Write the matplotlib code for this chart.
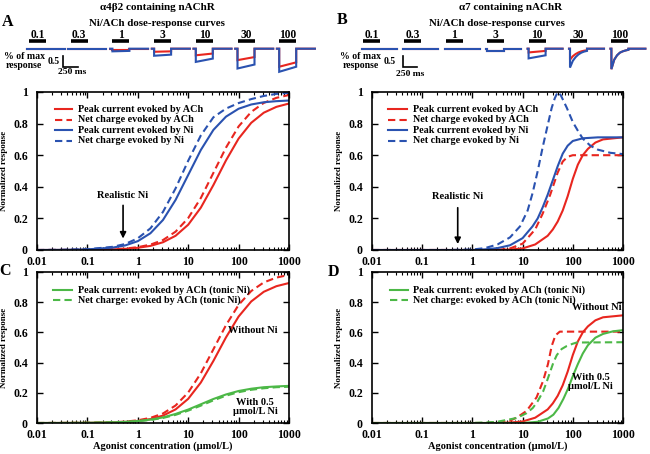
import numpy as np
import matplotlib
matplotlib.use('Agg')
import matplotlib.pyplot as plt
from matplotlib.ticker import LogLocator, NullFormatter

plt.rcParams['font.family'] = ['Liberation Serif', 'DejaVu Serif']
plt.rcParams['font.weight'] = 'bold'
plt.rcParams['axes.labelweight'] = 'bold'

RED = '#e8261f'
BLUE = '#2a52b0'
GREEN = '#4cb847'

# ---------------- data ----------------
conc_grid = [0.01, 0.0316, 0.1, 0.316, 0.562, 1, 1.78, 3.16, 5.62, 10, 17.8, 31.6,
             56.2, 100, 178, 316, 562, 1000]

# Panel A (alpha4beta2)
a_ach_peak = [0.0, 0.0003, 0.001, 0.004, 0.007, 0.014, 0.026, 0.049, 0.09, 0.16, 0.268,
              0.411, 0.567, 0.705, 0.805, 0.869, 0.906, 0.927]
a_ach_charge = [0.0, 0.0005, 0.0013, 0.005, 0.009, 0.018, 0.034, 0.063, 0.116, 0.202,
                0.329, 0.488, 0.648, 0.782, 0.874, 0.931, 0.963, 0.981]
a_ni_peak = [0.0, 0.001, 0.004, 0.015, 0.029, 0.056, 0.106, 0.19, 0.317, 0.475, 0.633,
             0.76, 0.844, 0.894, 0.921, 0.935, 0.942, 0.946]
a_ni_charge = [0.0, 0.001, 0.005, 0.02, 0.038, 0.074, 0.137, 0.241, 0.39, 0.565, 0.725,
               0.84, 0.895, 0.93, 0.955, 0.975, 0.988, 0.995]

# Panel C (alpha4beta2, tonic Ni)
c_tonic_peak = [0.0001, 0.0004, 0.0014, 0.0044, 0.0076, 0.013, 0.0225, 0.037, 0.06, 0.089,
                0.124, 0.159, 0.189, 0.212, 0.227, 0.237, 0.242, 0.246]
c_tonic_charge = [0.0001, 0.0004, 0.0012, 0.0039, 0.0068, 0.0117, 0.02, 0.0335, 0.054,
                  0.082, 0.115, 0.15, 0.181, 0.204, 0.22, 0.23, 0.237, 0.24]

# Panel B (alpha7)
b_ni_charge_conc = [0.01, 0.316, 1, 1.78, 3.16, 5.62, 8.9, 12.6, 15.8, 20, 25.1, 31.6, 38,
                    43.7, 50, 57.5, 75.9, 100, 126, 158, 224, 316, 562, 1000]
b_ni_charge = [0.0, 0.0, 0.003, 0.012, 0.035, 0.08, 0.15, 0.25, 0.36, 0.5, 0.65, 0.79, 0.9,
               0.96, 1.0, 0.98, 0.9, 0.81, 0.755, 0.705, 0.66, 0.635, 0.615, 0.607]
b_ni_peak_conc = [0.01, 1, 1.78, 3.16, 5.62, 10, 15.8, 20, 25.1, 31.6, 39.8, 50, 63, 79,
                  100, 158, 316, 1000]
b_ni_peak = [0.0, 0.0, 0.004, 0.012, 0.03, 0.075, 0.15, 0.2, 0.27, 0.35, 0.44, 0.53, 0.61,
             0.66, 0.69, 0.707, 0.713, 0.713]
b_ach_peak_conc = [0.01, 3.16, 5.62, 10, 17.8, 31.6, 40, 50, 63, 79, 100, 126, 158, 200,
                   282, 400, 1000]
b_ach_peak = [0.0, 0.0, 0.003, 0.01, 0.035, 0.09, 0.13, 0.18, 0.25, 0.34, 0.45, 0.54, 0.6,
              0.64, 0.68, 0.7, 0.713]
b_ach_charge_conc = [0.01, 3.16, 5.62, 10, 17.8, 25.1, 35.5, 50, 63, 79, 100, 1000]
b_ach_charge = [0.0, 0.0, 0.01, 0.04, 0.13, 0.23, 0.35, 0.49, 0.56, 0.59, 0.6, 0.6]

# Panel D (alpha7, tonic Ni)
d_ach_charge_conc = [0.01, 2, 3.16, 5.62, 8, 12, 19, 25.7, 32, 38, 45, 55, 1000]
d_ach_charge = [0.0, 0.0, 0.005, 0.015, 0.04, 0.08, 0.17, 0.28, 0.39, 0.51, 0.58, 0.605, 0.605]
d_tonic_peak_conc = [0.01, 10, 20, 32, 41, 52, 65, 81, 100, 126, 158, 200, 282, 400, 631, 1000]
d_tonic_peak = [0.0, 0.0, 0.008, 0.03, 0.055, 0.1, 0.16, 0.23, 0.31, 0.39, 0.46, 0.515,
                0.565, 0.59, 0.607, 0.615]
d_tonic_charge_conc = [0.01, 1, 3, 7.6, 12, 16, 20, 25.7, 30, 35.5, 41, 48, 60, 76, 100,
                       120, 1000]
d_tonic_charge = [0.0, 0.0, 0.007, 0.033, 0.065, 0.1, 0.145, 0.21, 0.27, 0.34, 0.4, 0.45,
                  0.49, 0.51, 0.525, 0.533, 0.535]

realistic_ni = 0.51

# Current traces (depth in normalized units during the pulse)
trace_labels = ['0.1', '0.3', '1', '3', '10', '30', '100']
a_trace_ni = [[0, 0], [0.02, 0.02], [0.12, 0.1], [0.32, 0.27], [0.6, 0.45], [0.9, 0.72],
              [1.05, 0.82]]
a_trace_ach = [[0, 0], [0.01, 0.01], [0.05, 0.05], [0.14, 0.12], [0.3, 0.22], [0.52, 0.38],
               [0.82, 0.62]]
b_trace_ni = [[0, 0], [0, 0], [0.01, 0.01], [0.12, 0.12], [0.44, 0.3],
              [0.86, 0.55, 0.38, 0.26, 0.18, 0.13, 0.1],
              [0.93, 0.5, 0.3, 0.18, 0.12, 0.08, 0.05]]
b_trace_ach = [[0, 0], [0, 0], [0, 0], [0.09, 0.09], [0.17, 0.1],
               [0.5, 0.34, 0.24, 0.17, 0.12, 0.09, 0.07],
               [0.93, 0.5, 0.3, 0.18, 0.12, 0.08, 0.05]]

# ---------------- figure ----------------
W, H = 650, 454
fig = plt.figure(figsize=(6.5, 4.54), dpi=100)


def px_axes(x0, y0, x1, y1):
    return fig.add_axes([x0 / W, 1 - y1 / H, (x1 - x0) / W, (y1 - y0) / H])


def ftext(x, y, s, **kw):
    fig.text(x / W, 1 - y / H, s, **kw)


DASH = (0, (3.5, 2))
LW = 1.5


def setup(ax, xlabel=False):
    ax.set_xscale('log')
    ax.set_xlim(0.01, 1000)
    ax.set_ylim(0, 1)
    ax.set_xticks([0.01, 0.1, 1, 10, 100, 1000])
    ax.set_xticklabels(['0.01', '0.1', '1', '10', '100', '1000'])
    ax.xaxis.set_minor_locator(LogLocator(base=10, subs=np.arange(2, 10) * 1.0, numticks=20))
    ax.xaxis.set_minor_formatter(NullFormatter())
    ax.set_yticks([0, 0.2, 0.4, 0.6, 0.8, 1])
    ax.set_yticklabels(['0', '0.2', '0.4', '0.6', '0.8', '1'])
    ax.tick_params(which='both', direction='in', top=True, right=True, labelsize=8.5)
    ax.tick_params(axis='x', which='major', pad=4.5)
    ax.tick_params(axis='y', which='major', pad=6.5)
    ax.tick_params(which='major', length=4, width=1)
    ax.tick_params(which='minor', length=2.2, width=0.8)
    for s in ax.spines.values():
        s.set_linewidth(1.2)
    ax.set_ylabel('Normalized response', fontsize=6.5)
    ax.yaxis.set_label_coords(-0.117, 0.5)
    if xlabel:
        ax.set_xlabel('Agonist concentration (\u03bcmol/L)', fontsize=7.5)
        ax.xaxis.set_label_coords(0.5, -0.125)


def manual_legend(ax, entries, x0, x1, y0, dy, fs=7.3):
    for k, (col, ls, lab) in enumerate(entries):
        y = y0 - k * dy
        ax.plot([x0, x1], [y, y], color=col, ls=ls, lw=LW, transform=ax.transAxes)
        ax.text(x1 + 0.022, y, lab, transform=ax.transAxes, va='center', ha='left', fontsize=fs)


# Panel A
axA = px_axes(37, 92, 289, 250)
setup(axA)
axA.plot(conc_grid, a_ach_peak, color=RED, lw=LW)
axA.plot(conc_grid, a_ach_charge, color=RED, lw=LW, ls=DASH)
axA.plot(conc_grid, a_ni_peak, color=BLUE, lw=LW)
axA.plot(conc_grid, a_ni_charge, color=BLUE, lw=LW, ls=DASH)
manual_legend(axA, [(RED, '-', 'Peak current evoked by ACh'),
                    (RED, DASH, 'Net charge evoked by ACh'),
                    (BLUE, '-', 'Peak current evoked by Ni'),
                    (BLUE, DASH, 'Net charge evoked by Ni')],
              0.071, 0.139, 0.891, 0.066)
axA.text(realistic_ni, 0.348, 'Realistic Ni', ha='center', va='center', fontsize=7.5)
axA.annotate('', xy=(realistic_ni, 0.055), xytext=(realistic_ni, 0.30),
             arrowprops=dict(arrowstyle='-|>', lw=1.2, color='black', mutation_scale=9))

# Panel B
axB = px_axes(372, 92, 623, 250)
setup(axB)
axB.plot(b_ach_peak_conc, b_ach_peak, color=RED, lw=LW)
axB.plot(b_ach_charge_conc, b_ach_charge, color=RED, lw=LW, ls=DASH)
axB.plot(b_ni_peak_conc, b_ni_peak, color=BLUE, lw=LW)
axB.plot(b_ni_charge_conc, b_ni_charge, color=BLUE, lw=LW, ls=DASH)
manual_legend(axB, [(RED, '-', 'Peak current evoked by ACh'),
                    (RED, DASH, 'Net charge evoked by ACh'),
                    (BLUE, '-', 'Peak current evoked by Ni'),
                    (BLUE, DASH, 'Net charge evoked by Ni')],
              0.064, 0.14, 0.891, 0.066)
axB.text(realistic_ni, 0.337, 'Realistic Ni', ha='center', va='center', fontsize=7.5)
axB.annotate('', xy=(realistic_ni, 0.02), xytext=(realistic_ni, 0.285),
             arrowprops=dict(arrowstyle='-|>', lw=1.2, color='black', mutation_scale=9))

# Panel C
axC = px_axes(37, 272, 289, 423)
setup(axC, xlabel=True)
axC.plot(conc_grid, a_ach_peak, color=RED, lw=LW)
axC.plot(conc_grid, a_ach_charge, color=RED, lw=LW, ls=DASH)
axC.plot(conc_grid, c_tonic_peak, color=GREEN, lw=LW)
axC.plot(conc_grid, c_tonic_charge, color=GREEN, lw=LW, ls=DASH)
manual_legend(axC, [(GREEN, '-', 'Peak current: evoked by ACh (tonic Ni)'),
                    (GREEN, DASH, 'Net charge: evoked by ACh (tonic Ni)')],
              0.063, 0.139, 0.881, 0.069)
axC.text(193, 0.611, 'Without Ni', ha='center', va='center', fontsize=7.5)
axC.text(211, 0.108, 'With 0.5\n\u03bcmol/L Ni', ha='center', va='center', fontsize=7.5,
         linespacing=1.05)

# Panel D
axD = px_axes(372, 272, 623, 423)
setup(axD, xlabel=True)
axD.plot(b_ach_peak_conc, b_ach_peak, color=RED, lw=LW)
axD.plot(d_ach_charge_conc, d_ach_charge, color=RED, lw=LW, ls=DASH)
axD.plot(d_tonic_peak_conc, d_tonic_peak, color=GREEN, lw=LW)
axD.plot(d_tonic_charge_conc, d_tonic_charge, color=GREEN, lw=LW, ls=DASH)
manual_legend(axD, [(GREEN, '-', 'Peak current: evoked by ACh (tonic Ni)'),
                    (GREEN, DASH, 'Net charge: evoked by ACh (tonic Ni)')],
              0.072, 0.143, 0.881, 0.069)
axD.text(302, 0.762, 'Without Ni', ha='center', va='center', fontsize=7.5)
axD.text(229, 0.27, 'With 0.5\n\u03bcmol/L Ni', ha='center', va='center', fontsize=7.5,
         linespacing=1.05)


# ---------------- trace strips ----------------
def draw_strip(x0, first, period, seglen, boff, blen, ni, ach, sb):
    ax = px_axes(x0, 26, x0 + 325, 80)
    ax.set_xlim(0, 325)
    ax.set_ylim(-(80 - 48.7) / 22, (48.7 - 26) / 22)
    ax.axis('off')
    for i, (lab, dn, da) in enumerate(zip(trace_labels, ni, ach)):
        s = first + i * period
        b0 = s + boff
        b1 = b0 + blen
        for d, col in ((da, RED), (dn, BLUE)):
            n = len(d)
            xs = [s, b0] + [b0 + blen * k / (n - 1) for k in range(n)] + [b1, s + seglen]
            ys = [0, 0] + [-v for v in d] + [0, 0]
            ax.plot(xs, ys, color=col, lw=1.5, solid_joinstyle='miter')
        ax.plot([b0, b1], [0.33, 0.33], color='black', lw=2.6, solid_capstyle='butt')
        ax.text((b0 + b1) / 2, 0.64, lab, ha='center', va='center', fontsize=8.3)
    vx, hx1, pct_x, half_x, ms_x, ms_y = sb
    ax.plot([vx, vx, hx1], [-0.32, -0.82, -0.82], color='black', lw=1.2,
            solid_joinstyle='miter')
    ax.text(half_x, -0.56, '0.5', ha='right', va='center', fontsize=7)
    ax.text(pct_x, -0.56, '% of max\nresponse', ha='center', va='center', fontsize=7,
            linespacing=1.0)
    ax.text(ms_x, ms_y, '250 ms', ha='center', va='center', fontsize=6.8)


draw_strip(0, 26.7, 41.7, 38, 2.3, 17, a_trace_ni, a_trace_ach,
           (63, 78, 24, 60, 72, -1.06))
draw_strip(325, 37, 41.4, 35, 1, 17, b_trace_ni, b_trace_ach,
           (78.3, 92, 35.5, 71, 85, -1.16))

# ---------------- titles and panel letters ----------------
ftext(157, 8, '\u03b14\u03b22 containing nAChR', ha='center', va='center', fontsize=8)
ftext(157, 24, 'Ni/ACh dose-response curves', ha='center', va='center', fontsize=7.8)
ftext(511, 8, '\u03b17 containing nAChR', ha='center', va='center', fontsize=8)
ftext(497, 24, 'Ni/ACh dose-response curves', ha='center', va='center', fontsize=7.8)
ftext(7.5, 21.5, 'A', ha='center', va='center', fontsize=11.5)
ftext(342.5, 20, 'B', ha='center', va='center', fontsize=11.5)
ftext(5, 271, 'C', ha='center', va='center', fontsize=11.5)
ftext(333, 272, 'D', ha='center', va='center', fontsize=11.5)

fig.savefig('out.png', dpi=100)
